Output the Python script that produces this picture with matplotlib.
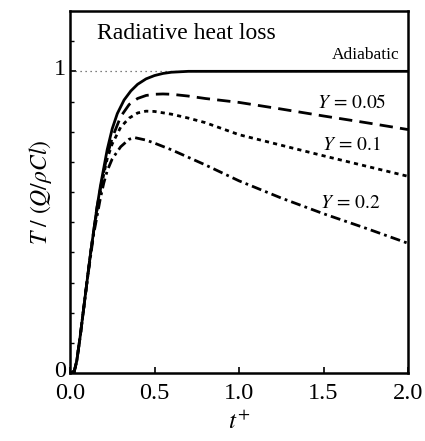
import matplotlib
matplotlib.use("Agg")
import matplotlib.pyplot as plt
import matplotlib.transforms as mtransforms
from matplotlib.ticker import FixedLocator

plt.rcParams['font.family'] = ['Liberation Serif', 'DejaVu Serif']
plt.rcParams['mathtext.fontset'] = 'stix'

# Adiabatic
t_adi = [0.0, 0.025, 0.04, 0.06, 0.08, 0.10, 0.12, 0.14, 0.16, 0.18, 0.20, 0.22, 0.25,
         0.28, 0.32, 0.36, 0.40, 0.45, 0.50, 0.55, 0.60, 0.70, 0.80, 1.0, 1.5, 2.0]
T_adi = [0.0, 0.005, 0.04, 0.12, 0.21, 0.30, 0.39, 0.47, 0.55, 0.62, 0.68, 0.74, 0.81,
         0.86, 0.905, 0.935, 0.957, 0.975, 0.986, 0.993, 0.997, 1.0, 1.0, 1.0, 1.0, 1.0]

# Y = 0.05
t_y05 = [0.0, 0.025, 0.04, 0.06, 0.08, 0.10, 0.12, 0.14, 0.16, 0.18, 0.20, 0.22, 0.25,
         0.30, 0.35, 0.40, 0.45, 0.50, 0.55, 0.60, 0.70, 0.80, 1.0, 1.25, 1.5, 1.75, 2.0]
T_y05 = [0.0, 0.005, 0.04, 0.12, 0.21, 0.30, 0.39, 0.47, 0.55, 0.61, 0.67, 0.72, 0.78,
         0.85, 0.89, 0.91, 0.92, 0.924, 0.925, 0.924, 0.918, 0.91, 0.897, 0.875, 0.852, 0.83, 0.807]

# Y = 0.1
t_y10 = [0.0, 0.025, 0.04, 0.06, 0.08, 0.10, 0.12, 0.14, 0.16, 0.18, 0.20, 0.22, 0.25,
         0.30, 0.35, 0.40, 0.45, 0.50, 0.60, 0.70, 0.80, 1.0, 1.25, 1.5, 1.75, 2.0]
T_y10 = [0.0, 0.005, 0.04, 0.12, 0.21, 0.30, 0.39, 0.47, 0.54, 0.60, 0.66, 0.71, 0.76,
         0.815, 0.845, 0.862, 0.868, 0.867, 0.858, 0.845, 0.83, 0.79, 0.755, 0.72, 0.686, 0.652]

# Y = 0.2
t_y20 = [0.0, 0.025, 0.04, 0.06, 0.08, 0.10, 0.12, 0.14, 0.16, 0.18, 0.20, 0.22, 0.25,
         0.30, 0.35, 0.385, 0.45, 0.50, 0.60, 0.70, 0.80, 1.0, 1.25, 1.5, 1.75, 2.0]
T_y20 = [0.0, 0.005, 0.04, 0.12, 0.21, 0.30, 0.38, 0.46, 0.52, 0.58, 0.63, 0.67, 0.71,
         0.75, 0.775, 0.78, 0.772, 0.762, 0.74, 0.715, 0.69, 0.637, 0.58, 0.528, 0.48, 0.43]

labels = ['$Y\\,=\\,0.05$', '$Y\\,=\\,0.1$', '$Y\\,=\\,0.2$']
xticks = [0, 0.5, 1.0, 1.5, 2.0]
xticklabels = ['0.0', '0.5', '1.0', '1.5', '2.0']

fig = plt.figure(figsize=(4.25, 4.41), dpi=100)
ax = fig.add_axes([70/425, 1-373/441, (408-70)/425, (373-11)/441])

ax.plot([0, 2], [1, 1], color='#555555', lw=0.9, linestyle=(0, (1, 3)))
ax.plot(t_adi, T_adi, color='black', lw=2.0, solid_capstyle='butt')
ax.plot(t_y05, T_y05, color='black', lw=2.0, dashes=(4.8, 2.6))
ax.plot(t_y10, T_y10, color='black', lw=2.0, dashes=(1.5, 1.5))
ax.plot(t_y20, T_y20, color='black', lw=2.0, dashes=(3.6, 1.5, 1.0, 1.5))

ax.set_xlim(0, 2.0)
ax.set_ylim(0, 1.2)

ax.set_xticks(xticks)
ax.set_xticklabels(xticklabels, fontsize=17.5)
ax.set_yticks([0, 1])
ax.set_yticklabels(['0', '1'], fontsize=17.5)
ax.yaxis.set_minor_locator(FixedLocator([0.1*i for i in range(1, 12)]))
ax.tick_params(axis='both', which='major', direction='in', length=4, width=1.2,
               top=False, right=False)
ax.tick_params(axis='x', which='major', pad=7)
ax.tick_params(axis='y', which='major', pad=3)
ax.tick_params(axis='y', which='minor', direction='in', length=3, width=1.0)

# nudge y tick labels slightly upward
offset = mtransforms.ScaledTranslation(0, 3/72, fig.dpi_scale_trans)
for lab in ax.get_yticklabels():
    lab.set_transform(lab.get_transform() + offset)

for s in ax.spines.values():
    s.set_linewidth(1.8)

ax.set_xlabel('$t^{+}$', fontsize=18, labelpad=5)
ax.set_ylabel('$T\\ /\\ (Q/\\rho Cl)$', fontsize=17, labelpad=0)

ax.text(0.16, 1.125, 'Radiative heat loss', fontsize=17, va='center', ha='left')
ax.text(1.95, 1.055, 'Adiabatic', fontsize=12.5, va='center', ha='right')
ax.text(1.46, 0.895, labels[0], fontsize=14, va='center', ha='left')
ax.text(1.49, 0.755, labels[1], fontsize=14, va='center', ha='left')
ax.text(1.48, 0.562, labels[2], fontsize=14, va='center', ha='left')

fig.savefig('out.png', dpi=100)
